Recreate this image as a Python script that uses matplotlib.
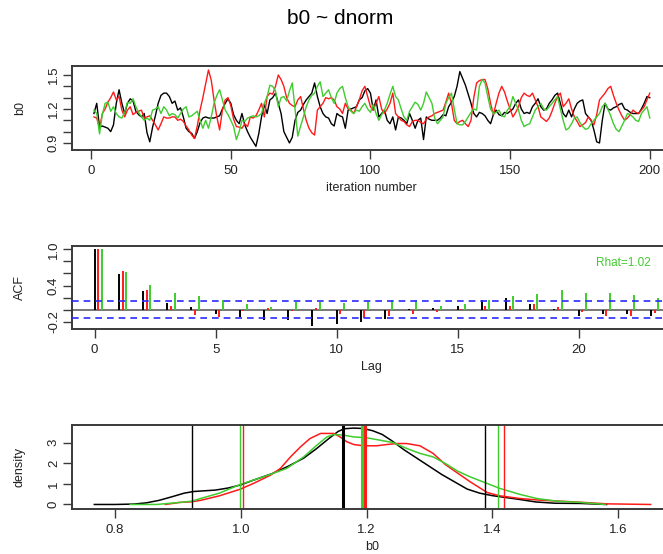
import numpy as np
import matplotlib
matplotlib.use("Agg")
import matplotlib.pyplot as plt

plt.rcParams['font.family'] = ['Liberation Sans', 'DejaVu Sans']

# ---------------- data ----------------
iterations = np.arange(1, 201)

chain1 = [1.16, 1.25, 1.04, 1.05, 1.04, 1.03, 1.00, 1.06, 1.25, 1.37,
          1.25, 1.16, 1.25, 1.29, 1.27, 1.18, 1.15, 1.13, 1.16, 0.99,
          0.91, 1.04, 1.14, 1.25, 1.32, 1.34, 1.34, 1.31, 1.25, 1.27,
          1.19, 1.21, 1.13, 1.03, 1.00, 0.985, 0.94, 1.00, 1.08, 1.12,
          1.13, 1.12, 1.12, 1.12, 1.13, 1.14, 1.20, 1.25, 1.29, 1.25,
          1.15, 1.10, 1.07, 1.16, 1.06, 1.00, 0.95, 0.91, 0.87, 0.98,
          1.13, 1.24, 1.16, 1.28, 1.30, 1.34, 1.25, 1.16, 1.00, 0.95,
          0.90, 0.95, 1.10, 1.17, 1.19, 1.24, 1.28, 1.31, 1.34, 1.43,
          1.31, 1.22, 1.16, 1.13, 1.12, 1.07, 1.05, 1.16, 1.14, 1.13,
          1.03, 1.19, 1.20, 1.21, 1.22, 1.28, 1.30, 1.36, 1.38, 1.34,
          1.19, 1.28, 1.13, 1.16, 1.19, 1.10, 1.07, 1.13, 1.015, 1.13,
          1.12, 1.10, 1.07, 1.16, 1.10, 1.03, 1.10, 1.12, 0.93, 1.13,
          1.11, 1.10, 1.10, 1.10, 1.12, 1.15, 1.14, 1.22, 1.26, 1.31,
          1.40, 1.53, 1.47, 1.41, 1.33, 1.25, 1.16, 1.13, 1.17, 1.16,
          1.14, 1.10, 1.07, 1.15, 1.19, 1.15, 1.14, 1.17, 1.16, 1.18,
          1.20, 1.25, 1.28, 1.20, 1.16, 1.17, 1.16, 1.22, 1.25, 1.29,
          1.22, 1.19, 1.20, 1.25, 1.28, 1.32, 1.34, 1.25, 1.16, 1.13,
          1.19, 1.13, 1.20, 1.25, 1.27, 1.28, 1.16, 1.13, 1.10, 1.015,
          0.91, 0.90, 1.10, 1.25, 1.20, 1.19, 1.21, 1.22, 1.24, 1.25,
          1.20, 1.19, 1.17, 1.16, 1.16, 1.16, 1.20, 1.25, 1.31, 1.30]

chain2 = [1.13, 1.12, 1.03, 1.16, 1.20, 1.26, 1.30, 1.35, 1.28, 1.31,
          1.19, 1.13, 1.19, 1.22, 1.15, 1.17, 1.18, 1.19, 1.12, 1.13,
          1.14, 1.10, 1.06, 1.015, 1.07, 1.13, 1.12, 1.12, 1.13, 1.13,
          1.10, 1.11, 1.09, 1.05, 1.015, 0.97, 0.94, 1.05, 1.19, 1.30,
          1.42, 1.544, 1.455, 1.28, 1.13, 1.015, 1.19, 1.28, 1.30, 1.23,
          1.11, 1.045, 1.04, 1.03, 1.07, 1.045, 1.13, 1.12, 1.14, 1.19,
          1.25, 1.13, 1.31, 1.34, 1.33, 1.40, 1.50, 1.46, 1.40, 1.30,
          1.25, 1.23, 1.22, 1.28, 1.31, 1.20, 1.10, 1.03, 0.99, 0.97,
          1.19, 1.22, 1.25, 1.30, 1.29, 1.30, 1.28, 1.22, 1.20, 1.16,
          1.25, 1.20, 1.19, 1.16, 1.22, 1.28, 1.36, 1.40, 1.31, 1.22,
          1.19, 1.25, 1.31, 1.20, 1.16, 1.20, 1.25, 1.34, 1.16, 1.13,
          1.10, 1.09, 1.06, 1.045, 1.09, 1.10, 1.10, 1.08, 1.07, 1.11,
          1.13, 1.14, 1.16, 1.17, 1.18, 1.19, 1.26, 1.34, 1.25, 1.10,
          1.07, 1.09, 1.10, 1.07, 1.045, 1.10, 1.30, 1.43, 1.45, 1.46,
          1.46, 1.38, 1.25, 1.15, 1.25, 1.34, 1.40, 1.35, 1.27, 1.20,
          1.13, 1.17, 1.22, 1.30, 1.34, 1.32, 1.31, 1.34, 1.28, 1.22,
          1.13, 1.11, 1.09, 1.12, 1.18, 1.25, 1.31, 1.34, 1.22, 1.25,
          1.29, 1.20, 1.13, 1.09, 1.045, 1.06, 1.08, 1.13, 1.10, 1.06,
          1.15, 1.28, 1.31, 1.34, 1.38, 1.40, 1.32, 1.25, 1.19, 1.14,
          1.10, 1.12, 1.15, 1.19, 1.17, 1.16, 1.19, 1.22, 1.28, 1.34]

chain3 = [1.19, 1.16, 0.98, 1.15, 1.25, 1.26, 1.18, 1.22, 1.16, 1.13,
          1.12, 1.17, 1.26, 1.25, 1.29, 1.22, 1.17, 1.13, 1.10, 1.12,
          1.10, 1.19, 1.20, 1.22, 1.16, 1.22, 1.19, 1.14, 1.16, 1.15,
          1.12, 1.16, 1.20, 1.22, 1.13, 1.14, 1.16, 1.18, 1.10, 1.03,
          1.10, 1.03, 1.13, 1.25, 1.32, 1.37, 1.28, 1.19, 1.15, 1.10,
          1.045, 0.93, 1.00, 1.10, 1.09, 1.12, 1.13, 1.14, 1.13, 1.14,
          1.16, 1.25, 1.31, 1.41, 1.40, 1.36, 1.22, 1.30, 1.31, 1.27,
          1.36, 1.43, 1.20, 0.96, 1.05, 1.13, 1.22, 1.28, 1.32, 1.34,
          1.40, 1.44, 1.31, 1.34, 1.37, 1.30, 1.25, 1.34, 1.38, 1.40,
          1.30, 1.22, 1.18, 1.16, 1.19, 1.18, 1.22, 1.25, 1.20, 1.17,
          1.24, 1.16, 1.10, 1.15, 1.19, 1.25, 1.33, 1.40, 1.31, 1.28,
          1.20, 1.13, 1.10, 1.18, 1.22, 1.26, 1.24, 1.19, 1.25, 1.35,
          1.30, 1.25, 1.12, 1.07, 1.10, 1.13, 1.25, 1.30, 1.34, 1.20,
          1.07, 1.06, 1.06, 1.09, 1.13, 1.17, 1.20, 1.19, 1.40, 1.46,
          1.43, 1.31, 1.20, 1.16, 1.17, 1.19, 1.14, 1.13, 1.19, 1.22,
          1.31, 1.25, 1.19, 1.10, 1.045, 1.06, 1.07, 1.13, 1.19, 1.22,
          1.25, 1.20, 1.19, 1.22, 1.25, 1.28, 1.31, 1.20, 1.10, 1.015,
          1.03, 1.07, 1.12, 1.13, 1.08, 1.045, 1.02, 1.03, 1.07, 1.10,
          1.13, 1.16, 1.22, 1.25, 1.20, 1.14, 1.07, 1.02, 1.00, 1.05,
          1.10, 1.16, 1.15, 1.13, 1.10, 1.09, 1.16, 1.19, 1.22, 1.12]

lags = np.arange(0, 24)
acf1 = [1.0, 0.586, 0.31, 0.116, 0.044, -0.072, -0.127, -0.177, -0.177, -0.27,
        -0.23, -0.2, -0.155, 0.005, 0.02, 0.066, 0.155, 0.2, 0.09, 0.005,
        -0.1, -0.066, -0.066, -0.1]
acf2 = [1.0, 0.646, 0.33, 0.066, -0.094, -0.116, -0.03, 0.02, -0.03, 0.03,
        -0.07, -0.14, -0.1, -0.07, -0.04, 0.01, 0.066, 0.06, 0.09, 0.044,
        -0.044, -0.1, -0.1, -0.055]
acf3 = [1.0, 0.624, 0.41, 0.28, 0.22, 0.155, 0.088, 0.04, 0.13, 0.13,
        0.105, 0.14, 0.155, 0.155, 0.066, 0.094, 0.16, 0.22, 0.265, 0.326,
        0.28, 0.28, 0.243, 0.19]
acf_bound = 0.1414
rhat_text = "Rhat=1.02"

dens1_x = [0.767, 0.80, 0.83, 0.85, 0.87, 0.89, 0.91, 0.925, 0.94, 0.96,
           0.98, 1.00, 1.02, 1.05, 1.075, 1.10, 1.12, 1.14, 1.155, 1.165,
           1.18, 1.195, 1.21, 1.225, 1.24, 1.26, 1.28, 1.30, 1.32, 1.34,
           1.36, 1.38, 1.40, 1.44, 1.47, 1.50, 1.54, 1.582]
dens1_y = [0.0, 0.0, 0.02, 0.08, 0.2, 0.37, 0.55, 0.63, 0.66, 0.70,
           0.80, 0.95, 1.18, 1.50, 1.85, 2.25, 2.70, 3.20, 3.55, 3.68,
           3.71, 3.69, 3.58, 3.40, 3.10, 2.65, 2.25, 1.85, 1.45, 1.10,
           0.75, 0.55, 0.43, 0.26, 0.12, 0.06, 0.05, 0.0]
dens2_x = [0.88, 0.903, 0.922, 0.936, 0.966, 0.999, 1.02, 1.047, 1.063, 1.079,
           1.095, 1.11, 1.127, 1.148, 1.158, 1.169, 1.18, 1.195, 1.216, 1.232,
           1.248, 1.264, 1.285, 1.306, 1.325, 1.338, 1.365, 1.392, 1.412, 1.444,
           1.476, 1.508, 1.545, 1.582, 1.652]
dens2_y = [0.0, 0.10, 0.13, 0.20, 0.42, 0.74, 1.02, 1.42, 1.75, 2.31,
           2.80, 3.20, 3.45, 3.45, 3.28, 3.04, 2.91, 2.85, 2.85, 2.91,
           2.96, 2.96, 2.85, 2.48, 1.95, 1.67, 1.10, 0.58, 0.42, 0.29,
           0.21, 0.16, 0.10, 0.03, 0.0]
dens3_x = [0.824, 0.866, 0.903, 0.922, 0.936, 0.966, 0.999, 1.02, 1.047, 1.073,
           1.10, 1.121, 1.137, 1.148, 1.163, 1.18, 1.20, 1.222, 1.243, 1.264,
           1.285, 1.306, 1.325, 1.345, 1.365, 1.392, 1.412, 1.444, 1.471, 1.503,
           1.54, 1.58]
dens3_y = [0.0, 0.0, 0.10, 0.16, 0.29, 0.55, 0.97, 1.18, 1.46, 1.75,
           2.31, 2.88, 3.28, 3.40, 3.37, 3.28, 3.24, 3.12, 3.00, 2.72,
           2.48, 2.31, 2.00, 1.62, 1.34, 1.02, 0.78, 0.49, 0.29, 0.16,
           0.10, 0.0]

q_low = [0.922, 1.003, 0.998]
q_med = [1.163, 1.197, 1.193]
q_high = [1.388, 1.418, 1.409]

colors = ["black", "#FF1A1A", "#3FCC2E"]
acf_offsets = [0.0, 0.15, 0.3]

# ---------------- figure ----------------
W, H = 663, 554
fig = plt.figure(figsize=(W / 100, H / 100), dpi=100)


def make_axes(top_px, bottom_px):
    left_px, right_px = 71.7, 672.0
    return fig.add_axes([left_px / W, 1 - bottom_px / H,
                         (right_px - left_px) / W, (bottom_px - top_px) / H])


ax1 = make_axes(65.7, 150.0)
ax2 = make_axes(245.7, 329.3)
ax3 = make_axes(425.0, 509.0)

frame_col = "#3a3a3a"
text_col = "#222222"


def style(ax, ylab, xlab):
    for s in ax.spines.values():
        s.set_color(frame_col)
        s.set_linewidth(1.4)
    ax.tick_params(axis="both", direction="out", length=6.5, width=1.0,
                   color=frame_col, labelsize=9.5, labelcolor=text_col, pad=4)
    ax.tick_params(axis="y", pad=2)
    for lab in ax.get_yticklabels():
        lab.set_rotation(90)
        lab.set_va("center")
    h_px = ax.get_position().height * H
    w_px = ax.get_position().width * W
    ax.set_xlabel(xlab, fontsize=9, color=text_col)
    ax.set_ylabel(ylab, fontsize=9, color=text_col)
    ax.xaxis.set_label_coords(0.5, -38.0 / h_px)
    ax.xaxis.label.set_va("center")
    ax.yaxis.set_label_coords(-(71.7 - 20.0) / w_px, 0.5)
    ax.yaxis.label.set_va("center")


# trace plot
for ch, c in zip([chain1, chain2, chain3], colors):
    ax1.plot(iterations, ch, color=c, lw=1.0)
ax1.set_xlim(-6.96, 207.96)
ax1.set_ylim(0.838, 1.582)
ax1.set_xticks([0, 50, 100, 150, 200])
ax1.set_yticks([0.9, 1.0, 1.1, 1.2, 1.3, 1.4, 1.5])
ax1.set_yticklabels(["0.9", "", "", "1.2", "", "", "1.5"])
style(ax1, "b0", "iteration number")

# autocorrelation plot
ax2.axhline(0, color="#777777", lw=1.4, zorder=1)
for vals, c, off in zip([acf1, acf2, acf3], colors, acf_offsets):
    ax2.vlines(lags + off, 0, vals, color=c, lw=1.4, zorder=2)
for b in (acf_bound, -acf_bound):
    ax2.axhline(b, color="#2a2aff", lw=1.2, ls=(0, (4, 3)), zorder=3)
ax2.text(23.0, 0.77, rhat_text, color=colors[2], fontsize=8.5,
         ha="right", va="center")
ax2.set_xlim(-0.95, 23.86)
ax2.set_ylim(-0.326, 1.06)
ax2.set_xticks([0, 5, 10, 15, 20])
ax2.set_yticks([-0.2, 0.0, 0.2, 0.4, 0.6, 0.8, 1.0])
ax2.set_yticklabels(["-0.2", "", "", "0.4", "", "", "1.0"])
style(ax2, "ACF", "Lag")

# posterior density plot
for dx, dy, c in zip([dens1_x, dens2_x, dens3_x],
                     [dens1_y, dens2_y, dens3_y], colors):
    ax3.plot(dx, dy, color=c, lw=1.1)
for i, c in enumerate(colors):
    ax3.axvline(q_low[i], color=c, lw=1.0)
    ax3.axvline(q_high[i], color=c, lw=1.0)
    ax3.axvline(q_med[i], color=c, lw=2.2)
ax3.set_xlim(0.731, 1.686)
ax3.set_ylim(-0.22, 3.86)
ax3.set_xticks([0.8, 1.0, 1.2, 1.4, 1.6])
ax3.set_xticklabels(["0.8", "1.0", "1.2", "1.4", "1.6"])
ax3.set_yticks([0, 1, 2, 3])
style(ax3, "density", "b0")

fig.text(340 / W, 1 - 18 / H, "b0 ~ dnorm", ha="center", va="center",
         fontsize=15, color="black")

fig.savefig("out.png", dpi=100)
